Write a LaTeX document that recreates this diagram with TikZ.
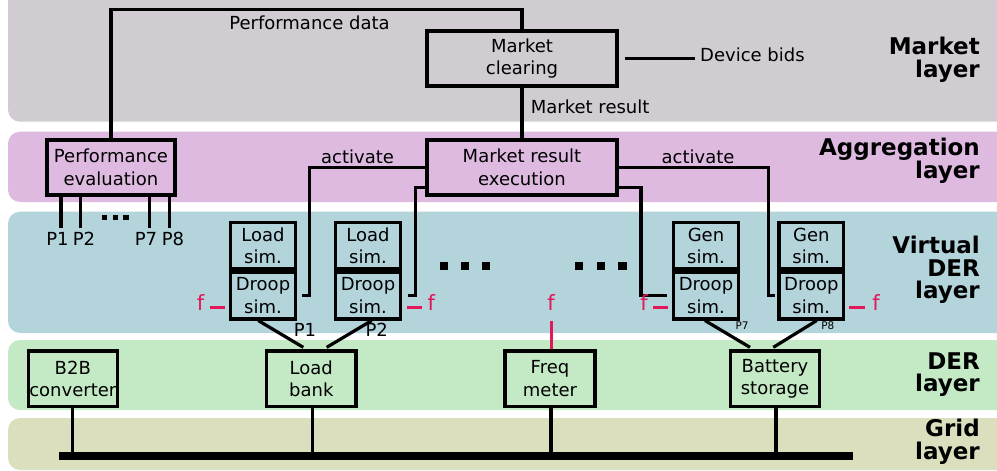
\documentclass[tikz,border=0pt]{standalone}
\usepackage{fontspec}
\setmainfont{DejaVu Sans}
\usetikzlibrary{calc}
\definecolor{cMarket}{HTML}{D1CCD2}
\definecolor{cAgg}{HTML}{DEBAE1}
\definecolor{cVder}{HTML}{B4D4DC}
\definecolor{cDer}{HTML}{C4EAC5}
\definecolor{cGrid}{HTML}{DBDFBE}
\definecolor{cRed}{HTML}{E2185A}
\newcommand{\nrmfont}{\fontsize{18}{22.5}\selectfont}
\newcommand{\lyrfont}{\fontsize{23}{22.5}\selectfont\bfseries}
\newcommand{\smlfont}{\fontsize{10.5}{12}\selectfont}
\newcommand{\ffont}{\fontsize{21}{24}\selectfont}
\tikzset{
  layerbg/.style={rounded corners=12pt},
  box/.style={draw, line width=3.2pt, inner sep=0pt, align=center, font=\nrmfont},
  simbox/.style={box, minimum width=64.5pt, minimum height=46.7pt},
  derbox/.style={box, minimum height=55.7pt},
  lbl/.style={inner sep=0pt, font=\nrmfont},
  smlbl/.style={inner sep=0pt, font=\smlfont},
  layerlbl/.style={inner sep=0pt, align=right, anchor=east, font=\lyrfont},
  conn/.style={line width=3.2pt},
  flbl/.style={inner sep=0pt, font=\ffont, text=cRed},
  redc/.style={line width=3pt, draw=cRed},
  dotsq/.style={fill=black},
}
\begin{document}
\begin{tikzpicture}[x=1pt,y=-1pt]
\useasboundingbox (0,0) rectangle (997,471);
\begin{scope}
\clip (0,0) rectangle (997,471);
\fill[cMarket, layerbg] (8,-20) rectangle (1012,121.7);
\fill[cAgg, layerbg] (8,131.7) rectangle (1012,202);
\fill[cVder, layerbg] (8,211.7) rectangle (1012,333);
\fill[cDer, layerbg] (8,340) rectangle (1012,410);
\fill[cGrid, layerbg] (8,418) rectangle (1012,470);
\end{scope}

% layer labels
\node[layerlbl] (lm) at (980,59.5) {Market\\layer};
\node[layerlbl] (la) at (980,160.7) {Aggregation\\layer};
\node[layerlbl] (lv) at (980,269.8) {Virtual\\DER\\layer};
\node[layerlbl] (ld) at (980,374.8) {DER\\layer};
\node[layerlbl] (lg) at (980,441.8) {Grid\\layer};

% market & aggregation boxes
\node[box, minimum width=190pt, minimum height=55pt] (mc) at (522,58.5) {Market\\clearing};
\node[box, minimum width=190pt, minimum height=55pt] (mre) at (522,167.5) {Market result\\execution};
\node[box, minimum width=128pt, minimum height=55pt] (pe) at (111,167.5) {Performance\\evaluation};

% virtual DER boxes
\node[simbox] (ls1) at (263,245.7) {Load\\sim.};
\node[simbox, anchor=north] (d1) at (ls1.south) {Droop\\sim.};
\node[simbox] (ls2) at (368,245.7) {Load\\sim.};
\node[simbox, anchor=north] (d2) at (ls2.south) {Droop\\sim.};
\node[simbox] (gs1) at (706,245.7) {Gen\\sim.};
\node[simbox, anchor=north] (g1) at (gs1.south) {Droop\\sim.};
\node[simbox] (gs2) at (811.3,245.7) {Gen\\sim.};
\node[simbox, anchor=north] (g2) at (gs2.south) {Droop\\sim.};

% DER boxes
\node[derbox, minimum width=89pt] (b2b) at (72.8,378.8) {B2B\\converter};
\node[derbox, minimum width=89.3pt] (lb) at (311.3,378.8) {Load\\bank};
\node[derbox, minimum width=90pt] (fmeter) at (550,378.8) {Freq\\meter};
\node[derbox, minimum width=88.6pt] (bat) at (775,378.8) {Battery\\storage};

% labels
\node[lbl, anchor=base] (pdata) at (309.5,29.3) {Performance data};
\node[lbl, anchor=base west] (mres) at (530.7,113.3) {Market result};
\node[lbl, anchor=base west] (bids) at (700,61.7) {Device bids};
\node[lbl, anchor=base] (actL) at (357.5,163.3) {activate};
\node[lbl, anchor=base] (actR) at (698,163.3) {activate};

% market connectors
\draw[conn] (mc.north) -- ++(0,-20) -| (pe.north);
\draw[conn] (mc.south) -- (mre.north);
\draw[conn, shorten <=6pt, shorten >=5pt] (mc.east) -- (mc.east -| bids.west);

% activate connectors
\draw[conn, shorten >=5pt] (mre.west) -- ++(-116.3,0) |- (d1.east);
\draw[conn, shorten >=6pt] ([yshift=9.3pt]mre.south west) -- ++(-10.3,0) |- (d2.east);
\draw[conn, shorten >=2.6pt] (mre.east) -- ++(149.7,0) |- (g2.west);
\draw[conn, shorten >=5pt] ([yshift=9.3pt]mre.south east) -- ++(22.3,0) |- (g1.west);

% performance outputs
\coordinate (pl1) at (61,228.3);
\coordinate (pl2) at (80.7,228.3);
\coordinate (pl7) at (149.7,228.3);
\coordinate (pl8) at (169.7,228.3);
\draw[conn] (pe.south -| pl1) -- (pl1);
\draw[conn] (pe.south -| pl2) -- (pl2);
\draw[conn] (pe.south -| pl7) -- (pl7);
\draw[conn] (pe.south -| pl8) -- (pl8);
\node[lbl, anchor=base] (tp1) at (57.5,245) {P1};
\node[lbl, anchor=base] (tp2) at (84,245) {P2};
\node[lbl, anchor=base] (tp7) at (146,245) {P7};
\node[lbl, anchor=base] (tp8) at (173,245) {P8};
\fill[dotsq] (101.7,214.5) rectangle ++(5.2,5.2);
\fill[dotsq] (112.5,214.5) rectangle ++(5.2,5.2);
\fill[dotsq] (123.3,214.5) rectangle ++(5.2,5.2);

% ellipsis squares
\fill[dotsq] (440,261.7) rectangle ++(8.3,8.3);
\fill[dotsq] (461,261.7) rectangle ++(8.3,8.3);
\fill[dotsq] (481.7,261.7) rectangle ++(8.3,8.3);
\fill[dotsq] (575,261.7) rectangle ++(8.3,8.3);
\fill[dotsq] (596.7,261.7) rectangle ++(8.3,8.3);
\fill[dotsq] (618.3,261.7) rectangle ++(8.3,8.3);

% droop to DER
\draw[conn] ([xshift=-4.7pt]d1.south) -- ([xshift=-8pt,yshift=2pt]lb.north);
\draw[conn] ([xshift=3.7pt]d2.south) -- ([xshift=15.4pt,yshift=2pt]lb.north);
\draw[conn] ([xshift=-1pt]g1.south) -- ([xshift=-25pt,yshift=2pt]bat.north);
\draw[conn] ([xshift=5.4pt]g2.south) -- ([xshift=-1.7pt,yshift=2pt]bat.north);
\node[lbl, anchor=base] (q1) at (305,336.4) {P1};
\node[lbl, anchor=base] (q2) at (376.7,336.4) {P2};
\node[smlbl, anchor=base] (q7) at (742,329.3) {P7};
\node[smlbl, anchor=base] (q8) at (827.8,329.3) {P8};

% frequency signals
\node[flbl, anchor=base] (f1) at (200.5,310.5) {f};
\draw[redc] ([xshift=9.5pt,yshift=3.2pt]f1.base) -- ++(15,0);
\node[flbl, anchor=base] (f2) at (431.3,310.5) {f};
\draw[redc] ([xshift=-9.6pt,yshift=3.2pt]f2.base) -- ++(-14.7,0);
\node[flbl, anchor=base] (fm) at (551,310.5) {f};
\draw[redc, shorten <=10.2pt] (fm.south) -- (fm.south |- fmeter.north);
\node[flbl, anchor=base] (f7) at (644,310.5) {f};
\draw[redc] ([xshift=9pt,yshift=3.2pt]f7.base) -- ++(15,0);
\node[flbl, anchor=base] (f8) at (876,310.5) {f};
\draw[redc] ([xshift=-11pt,yshift=3.2pt]f8.base) -- ++(-16,0);

% grid bus
\coordinate (busL) at (59.3,456);
\coordinate (busR) at (852.7,456);
\draw[line width=8.3pt] (busL) -- (busR);
\draw[conn] (b2b.south) -- (b2b.south |- busL);
\draw[conn] ([xshift=1.4pt]lb.south) -- ([xshift=1.4pt]lb.south |- busL);
\draw[conn] ([xshift=1pt]fmeter.south) -- ([xshift=1pt]fmeter.south |- busL);
\draw[conn] ([xshift=1pt]bat.south) -- ([xshift=1pt]bat.south |- busL);
\end{tikzpicture}
\end{document}
